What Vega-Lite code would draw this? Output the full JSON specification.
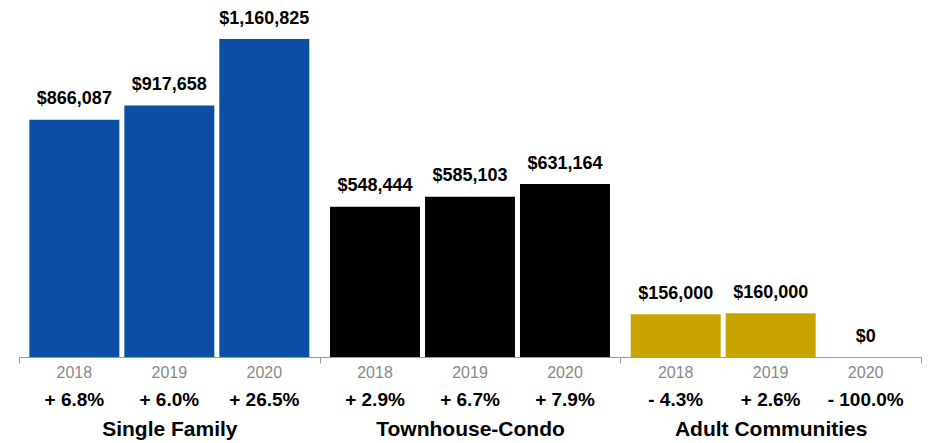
{
  "$schema": "https://vega.github.io/schema/vega-lite/v6.json",
  "width": 902,
  "height": 357,
  "autosize": {"type": "none"},
  "padding": {"left": 19, "top": 0, "right": 9, "bottom": 86},
  "config": {"view": {"stroke": null}, "font": "Liberation Sans"},
  "data": {
    "values": [
      {"group": "Single Family", "year": "2018", "price": 866087, "pct": "+ 6.8%"},
      {"group": "Single Family", "year": "2019", "price": 917658, "pct": "+ 6.0%"},
      {"group": "Single Family", "year": "2020", "price": 1160825, "pct": "+ 26.5%"},
      {"group": "Townhouse-Condo", "year": "2018", "price": 548444, "pct": "+ 2.9%"},
      {"group": "Townhouse-Condo", "year": "2019", "price": 585103, "pct": "+ 6.7%"},
      {"group": "Townhouse-Condo", "year": "2020", "price": 631164, "pct": "+ 7.9%"},
      {"group": "Adult Communities", "year": "2018", "price": 156000, "pct": "- 4.3%"},
      {"group": "Adult Communities", "year": "2019", "price": 160000, "pct": "+ 2.6%"},
      {"group": "Adult Communities", "year": "2020", "price": 0, "pct": "- 100.0%"}
    ]
  },
  "encoding": {
    "x": {
      "field": "group",
      "type": "nominal",
      "sort": ["Single Family", "Townhouse-Condo", "Adult Communities"],
      "scale": {"paddingInner": 0, "paddingOuter": 0},
      "axis": {
        "title": null,
        "tickBand": "extent",
        "tickSize": 6,
        "tickColor": "#9a9a9a",
        "domainColor": "#9a9a9a",
        "labelFontSize": 21,
        "labelFontWeight": "bold",
        "labelColor": "#000000",
        "labelBaseline": "alphabetic",
        "labelPadding": 72,
        "labelAngle": 0,
        "labelLimit": 0,
        "grid": false
      }
    },
    "xOffset": {
      "field": "year",
      "type": "ordinal",
      "scale": {"paddingInner": 0.0526, "paddingOuter": 0.109}
    },
    "y": {
      "field": "price",
      "type": "quantitative",
      "scale": {"domain": [0, 1303200], "nice": false},
      "axis": null
    }
  },
  "layer": [
    {
      "mark": {"type": "bar"},
      "encoding": {
        "color": {
          "field": "group",
          "type": "nominal",
          "scale": {
            "domain": ["Single Family", "Townhouse-Condo", "Adult Communities"],
            "range": ["#0A4FA3", "#000000", "#C9A400"]
          },
          "legend": null
        }
      }
    },
    {
      "mark": {"type": "text", "fontSize": 18, "fontWeight": "bold", "baseline": "alphabetic", "dy": -15.5, "color": "#000000"},
      "encoding": {"text": {"field": "price", "type": "quantitative", "format": "$,.0f"}}
    },
    {
      "mark": {"type": "text", "fontSize": 16, "baseline": "alphabetic", "dy": 21, "color": "#888888"},
      "encoding": {"y": {"datum": 0}, "text": {"field": "year"}}
    },
    {
      "mark": {"type": "text", "fontSize": 19, "fontWeight": "bold", "baseline": "alphabetic", "dy": 49, "color": "#000000"},
      "encoding": {"y": {"datum": 0}, "text": {"field": "pct"}}
    }
  ]
}
